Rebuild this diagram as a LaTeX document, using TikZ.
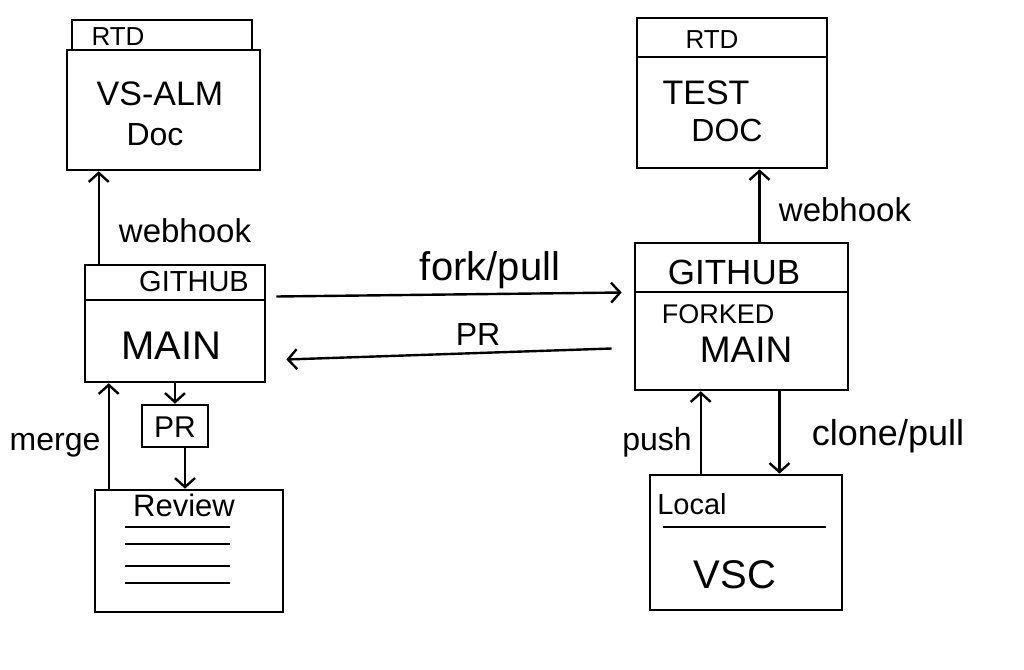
\documentclass[tikz,border=0pt]{standalone}
\usepackage{fontspec}
\setmainfont{Liberation Sans}
\usetikzlibrary{arrows.meta,calc}
\begin{document}
\begin{tikzpicture}[x=1pt,y=-1pt,
  box/.style={draw,line width=2.6pt,inner sep=0pt,minimum width=#1},
  conn/.style={line width=2.4pt,-{Straight Barb[length=9pt,width=20pt,line width=2.4pt]}},
  div/.style={line width=2.4pt},
  t/.style={inner sep=0pt,font=\fontsize{#1}{#1}\selectfont},
  t/.default=30]
\useasboundingbox[fill=white] (0,0) rectangle (1024,669);
% left RTD
\node[box=180pt,minimum height=30pt] (tab1) at (162,35) {};
\node[box=193pt,minimum height=120pt] (rtd1) at (163.5,110) {};
\node[t=26] (rtd1t) at (118,37) {RTD};
\node[t=34] (rtd1a) at (160,94) {VS-ALM};
\node[t=32] (rtd1b) at (155,135) {Doc};
% right RTD
\node[box=190pt,minimum height=150pt] (rtd2) at (732,93) {};
\draw[div] (rtd2.west |- 0,57) -- (rtd2.east |- 0,57);
\node[t=26] (rtd2t) at (712,40) {RTD};
\node[t=34] (rtd2a) at (706,93) {TEST};
\node[t=32] (rtd2b) at (727,130) {DOC};
% left GitHub
\node[box=180pt,minimum height=117pt] (gh1) at (175,323.5) {};
\draw[div] (gh1.west |- 0,300) -- (gh1.east |- 0,300);
\node[t=29] (gh1t) at (194,282) {GITHUB};
\node[t=40] (gh1m) at (171,346) {MAIN};
% right GitHub
\node[box=213pt,minimum height=147pt] (gh2) at (741.5,316.5) {};
\draw[div] (gh2.west |- 0,292) -- (gh2.east |- 0,292);
\node[t=35] (gh2t) at (734,272) {GITHUB};
\node[t=27] (gh2f) at (718,314) {FORKED};
\node[t=37] (gh2m) at (746,350) {MAIN};
% PR box
\node[box=66pt,minimum height=42pt] (pr) at (175,426) {};
\node[t=30] (prt) at (175,427) {PR};
% Review
\node[box=188pt,minimum height=122pt] (rev) at (189,551) {};
\node[t=31] (revt) at (184,505) {Review};
\foreach \yy in {527,544,566,583}{\draw[div] (125,\yy) -- (230,\yy);}
% Local
\node[box=192pt,minimum height=135pt] (loc) at (746,542.5) {};
\draw[div] (663,527) -- (826,527);
\node[t=29] (loct) at (692,504) {Local};
\node[t=40] (locv) at (735,575) {VSC};
% anchor points of the connectors
\coordinate (wh1s) at ($(gh1.north west)+(15,0)$);
\coordinate (fps) at ($(gh1.east)+(10,-27)$);
\coordinate (fpe) at ($(gh2.west)+(-12,-24)$);
\coordinate (prs) at ($(gh2.west)+(-22,32)$);
\coordinate (pre) at ($(gh1.east)+(20,36)$);
\coordinate (prrs) at ($(pr.south)+(10,0)$);
\coordinate (mgs) at ($(rev.north west)+(15,0)$);
\coordinate (wh2s) at ($(gh2.north)+(18,0)$);
\coordinate (pshs) at ($(loc.north west)+(52,0)$);
\coordinate (cps) at ($(gh2.south)+(38,0)$);
% connectors
\draw[conn] (wh1s) -- (wh1s |- rtd1.south);
\node[t=33] (wh1) at (185,231) {webhook};
\draw[conn] (fps) -- (fpe);
\node[t=40] (fp) at (490,270) {fork/pull};
\draw[conn] (prs) -- (pre);
\node[t=32] (prl) at (478,334) {PR};
\draw[conn] (gh1.south -| pr.north) -- (pr.north);
\draw[conn] (prrs) -- (prrs |- rev.north);
\draw[conn] (mgs) -- (mgs |- gh1.south);
\node[t=32] (mg) at (55,445) {merge};
\draw[conn] (wh2s) -- (wh2s |- rtd2.south);
\node[t=33] (wh2) at (845,210) {webhook};
\draw[conn] (pshs) -- (pshs |- gh2.south);
\node[t=32] (psh) at (657,442) {push};
\draw[conn] (cps) -- (cps |- loc.north);
\node[t=36] (cp) at (888,436) {clone/pull};
\end{tikzpicture}
\end{document}
